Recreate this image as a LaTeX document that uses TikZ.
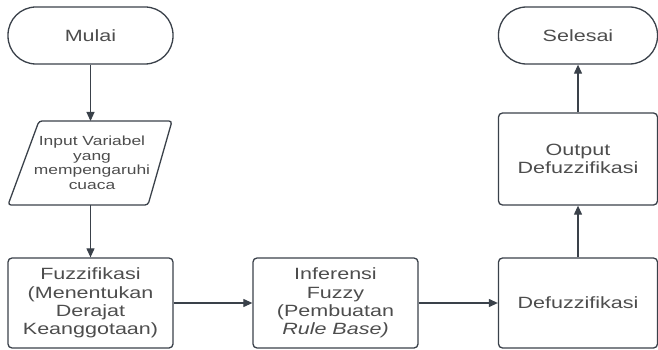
\documentclass[tikz,border=0pt]{standalone}
\usepackage{fontspec}
\newfontfamily\lf[FakeStretch=1.32]{Liberation Sans}
\usetikzlibrary{arrows.meta}
\definecolor{ln}{HTML}{3A414A}
\definecolor{tx}{HTML}{4D4D4D}
\begin{document}
\begin{tikzpicture}[x=1pt,y=-1pt,
  base/.style={draw=ln, line width=1.3pt, text=tx, font=\lf\fontsize{16.3}{18.3}\selectfont, align=center, inner sep=0pt},
  term/.style={base, rounded corners=28pt, minimum height=57pt},
  procbox/.style={base, rounded corners=4pt, minimum height=90pt},
  arr/.style={draw=ln, line width=1.1pt, -{Triangle[length=9pt,width=8pt]}}]
\useasboundingbox (0,0) rectangle (658,350);
% left column
\node[term, minimum width=165pt] (start) at (90.5,35.5) {Mulai};
\draw[ln, line width=1.3pt, rounded corners=3pt] (39,121) -- (172,121) -- (148,205) -- (8,205) -- cycle;
\node[inner sep=0pt, text=tx, font=\lf\fontsize{13.2}{14.5}\selectfont, align=center] (input) at (92,163) {Input Variabel\\yang\\mempengaruhi\\cuaca};
\coordinate (intop) at (90.5,121);
\coordinate (inbot) at (90.5,205);
\node[procbox, minimum width=165pt] (fuzz) at (90.5,303) {Fuzzifikasi\\(Menentukan\\Derajat\\Keanggotaan)};
% middle
\node[procbox, minimum width=165pt] (infer) at (335.5,303) {Inferensi\\Fuzzy\\(Pembuatan\\\textit{Rule Base)}};
% right column
\node[procbox, minimum width=159pt] (defuzz) at (578,303) {Defuzzifikasi};
\node[procbox, minimum width=159pt, minimum height=92pt] (out) at (578,159) {Output\\Defuzzifikasi};
\node[term, minimum width=159pt] (end) at (578,35.5) {Selesai};
% connectors
\draw[arr] (start.south) -- (intop);
\draw[arr] (inbot) -- (fuzz.north);
\draw[arr] (fuzz.east) -- (infer.west);
\draw[arr] (infer.east) -- (defuzz.west);
\draw[arr] (defuzz.north) -- (out.south);
\draw[arr] (out.north) -- (end.south);
\end{tikzpicture}
\end{document}
